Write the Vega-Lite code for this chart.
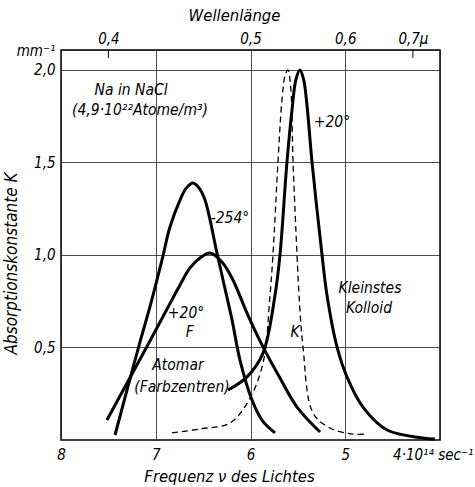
{
  "$schema": "https://vega.github.io/schema/vega-lite/v6.json",
  "width": 379,
  "height": 390,
  "autosize": {"type": "none"},
  "padding": {"left": 61, "top": 50, "right": 35, "bottom": 47},
  "background": "white",
  "config": {
    "view": {"stroke": "black", "strokeWidth": 1.5},
    "font": "DejaVu Sans Condensed",
    "axis": {
      "labelFont": "DejaVu Sans Condensed",
      "labelFontStyle": "italic",
      "labelFontSize": 15,
      "labelColor": "black",
      "labelFlush": false,
      "labelOverlap": false,
      "labelBound": false,
      "titleFont": "DejaVu Sans Condensed",
      "titleFontStyle": "italic",
      "titleFontWeight": "normal",
      "titleFontSize": 16.5,
      "titleColor": "black",
      "ticks": false,
      "tickSize": 0,
      "domain": false,
      "gridColor": "#222222",
      "gridWidth": 0.8,
      "gridOpacity": 1
    }
  },
  "datasets": {
    "solid": [
      {"series": "m254", "o": 1, "nu": 7.430, "K": 0.027},
      {"series": "m254", "o": 2, "nu": 7.314, "K": 0.250},
      {"series": "m254", "o": 3, "nu": 7.166, "K": 0.530},
      {"series": "m254", "o": 4, "nu": 7.050, "K": 0.741},
      {"series": "m254", "o": 5, "nu": 6.934, "K": 0.973},
      {"series": "m254", "o": 6, "nu": 6.850, "K": 1.151},
      {"series": "m254", "o": 7, "nu": 6.744, "K": 1.297},
      {"series": "m254", "o": 8, "nu": 6.680, "K": 1.360},
      {"series": "m254", "o": 9, "nu": 6.607, "K": 1.389},
      {"series": "m254", "o": 10, "nu": 6.540, "K": 1.360},
      {"series": "m254", "o": 11, "nu": 6.480, "K": 1.297},
      {"series": "m254", "o": 12, "nu": 6.354, "K": 1.011},
      {"series": "m254", "o": 13, "nu": 6.290, "K": 0.865},
      {"series": "m254", "o": 14, "nu": 6.195, "K": 0.649},
      {"series": "m254", "o": 15, "nu": 6.111, "K": 0.432},
      {"series": "m254", "o": 16, "nu": 5.984, "K": 0.216},
      {"series": "m254", "o": 17, "nu": 5.879, "K": 0.108},
      {"series": "m254", "o": 18, "nu": 5.741, "K": 0.038},
      {"series": "F20", "o": 1, "nu": 7.515, "K": 0.108},
      {"series": "F20", "o": 2, "nu": 7.314, "K": 0.297},
      {"series": "F20", "o": 3, "nu": 7.113, "K": 0.486},
      {"series": "F20", "o": 4, "nu": 6.881, "K": 0.708},
      {"series": "F20", "o": 5, "nu": 6.744, "K": 0.838},
      {"series": "F20", "o": 6, "nu": 6.639, "K": 0.930},
      {"series": "F20", "o": 7, "nu": 6.533, "K": 0.984},
      {"series": "F20", "o": 8, "nu": 6.427, "K": 1.011},
      {"series": "F20", "o": 9, "nu": 6.301, "K": 0.962},
      {"series": "F20", "o": 10, "nu": 6.185, "K": 0.865},
      {"series": "F20", "o": 11, "nu": 6.037, "K": 0.686},
      {"series": "F20", "o": 12, "nu": 5.868, "K": 0.503},
      {"series": "F20", "o": 13, "nu": 5.689, "K": 0.335},
      {"series": "F20", "o": 14, "nu": 5.509, "K": 0.178},
      {"series": "F20", "o": 15, "nu": 5.266, "K": 0.043},
      {"series": "Kol", "o": 1, "nu": 6.237, "K": 0.270},
      {"series": "Kol", "o": 2, "nu": 6.037, "K": 0.341},
      {"series": "Kol", "o": 3, "nu": 5.868, "K": 0.470},
      {"series": "Kol", "o": 4, "nu": 5.741, "K": 0.784},
      {"series": "Kol", "o": 5, "nu": 5.689, "K": 1.000},
      {"series": "Kol", "o": 6, "nu": 5.615, "K": 1.503},
      {"series": "Kol", "o": 7, "nu": 5.562, "K": 1.784},
      {"series": "Kol", "o": 8, "nu": 5.520, "K": 1.950},
      {"series": "Kol", "o": 9, "nu": 5.478, "K": 2.000},
      {"series": "Kol", "o": 10, "nu": 5.440, "K": 1.950},
      {"series": "Kol", "o": 11, "nu": 5.404, "K": 1.810},
      {"series": "Kol", "o": 12, "nu": 5.351, "K": 1.503},
      {"series": "Kol", "o": 13, "nu": 5.245, "K": 1.000},
      {"series": "Kol", "o": 14, "nu": 5.193, "K": 0.784},
      {"series": "Kol", "o": 15, "nu": 5.087, "K": 0.503},
      {"series": "Kol", "o": 16, "nu": 4.982, "K": 0.341},
      {"series": "Kol", "o": 17, "nu": 4.813, "K": 0.178},
      {"series": "Kol", "o": 18, "nu": 4.559, "K": 0.054},
      {"series": "Kol", "o": 19, "nu": 4.179, "K": 0.011},
      {"series": "Kol", "o": 20, "nu": 4.053, "K": 0.005}
    ],
    "dashed": [
      {"o": 1, "nu": 6.829, "K": 0.038},
      {"o": 2, "nu": 6.530, "K": 0.060},
      {"o": 3, "nu": 6.216, "K": 0.092},
      {"o": 4, "nu": 6.016, "K": 0.216},
      {"o": 5, "nu": 5.868, "K": 0.416},
      {"o": 6, "nu": 5.794, "K": 0.784},
      {"o": 7, "nu": 5.763, "K": 1.000},
      {"o": 8, "nu": 5.710, "K": 1.503},
      {"o": 9, "nu": 5.668, "K": 1.838},
      {"o": 10, "nu": 5.635, "K": 1.970},
      {"o": 11, "nu": 5.605, "K": 2.000},
      {"o": 12, "nu": 5.575, "K": 1.900},
      {"o": 13, "nu": 5.551, "K": 1.503},
      {"o": 14, "nu": 5.509, "K": 1.000},
      {"o": 15, "nu": 5.488, "K": 0.784},
      {"o": 16, "nu": 5.446, "K": 0.503},
      {"o": 17, "nu": 5.340, "K": 0.146},
      {"o": 18, "nu": 5.161, "K": 0.065},
      {"o": 19, "nu": 4.918, "K": 0.032},
      {"o": 20, "nu": 4.770, "K": 0.032}
    ],
    "topticks": [
      {"nu": 7.5, "K": 2.108, "K2": 2.065},
      {"nu": 4.2857, "K": 2.108, "K2": 2.065}
    ],
    "labels": [
      {"t": "Na in NaCl", "nu": 7.26, "K": 1.89},
      {"t": "(4,9·10²²Atome/m³)", "nu": 7.166, "K": 1.784},
      {"t": "-254°", "nu": 6.216, "K": 1.2},
      {"t": "+20°", "nu": 5.14, "K": 1.719},
      {"t": "+20°", "nu": 6.68, "K": 0.686},
      {"t": "F", "nu": 6.64, "K": 0.584},
      {"t": "Atomar", "nu": 6.765, "K": 0.405},
      {"t": "(Farbzentren)", "nu": 6.723, "K": 0.286},
      {"t": "K", "nu": 5.53, "K": 0.584},
      {"t": "Kleinstes", "nu": 4.739, "K": 0.82},
      {"t": "Kolloid", "nu": 4.75, "K": 0.713}
    ]
  },
  "resolve": {"axis": {"x": "independent"}},
  "layer": [
    {
      "data": {"name": "solid"},
      "mark": {"type": "line", "color": "black", "strokeWidth": 3, "interpolate": "catmull-rom"},
      "encoding": {
        "x": {
          "field": "nu", "type": "quantitative",
          "scale": {"domain": [4, 8], "reverse": true, "nice": false, "zero": false},
          "axis": {
            "orient": "bottom",
            "values": [8, 7, 6, 5, 4],
            "labelExpr": "datum.value == 4 ? '4·10¹⁴ sec⁻¹' : format(datum.value, 'd')",
            "labelAlign": {"condition": {"test": "datum.value == 4", "value": "right"}, "value": "center"},
            "labelOffset": {"condition": {"test": "datum.value == 4", "value": 33}, "value": 0},
            "labelPadding": 7,
            "title": "Frequenz ν des Lichtes",
            "titleAnchor": "middle",
            "titleX": 168,
            "titlePadding": 6,
            "grid": true
          }
        },
        "y": {
          "field": "K", "type": "quantitative",
          "scale": {"domain": [0, 2.108], "nice": false, "zero": true},
          "axis": {
            "values": [0.5, 1, 1.5, 2, 2.108],
            "labelExpr": "datum.value > 2.05 ? 'mm⁻¹' : replace(format(datum.value, '.1f'), '.', ',')",
            "labelPadding": 6,
            "title": "Absorptionskonstante K",
            "titleFontSize": 17,
            "titleAnchor": "middle",
            "titleX": -41,
            "titleY": 213,
            "grid": true
          }
        },
        "detail": {"field": "series"},
        "order": {"field": "o"}
      }
    },
    {
      "data": {"name": "dashed"},
      "mark": {"type": "line", "color": "black", "strokeWidth": 1.3, "strokeDash": [6, 4], "interpolate": "catmull-rom"},
      "encoding": {
        "x": {"field": "nu", "type": "quantitative", "axis": null},
        "y": {"field": "K", "type": "quantitative"},
        "order": {"field": "o"}
      }
    },
    {
      "data": {"name": "topticks"},
      "mark": {"type": "rule", "color": "black", "strokeWidth": 1},
      "encoding": {
        "x": {
          "field": "nu", "type": "quantitative",
          "axis": {
            "orient": "top",
            "values": [7.5, 6, 5, 4.2857],
            "labelExpr": "datum.value == 7.5 ? '0,4' : datum.value == 6 ? '0,5' : datum.value == 5 ? '0,6' : '0,7μ'",
            "labelPadding": 4,
            "title": "Wellenlänge",
            "titleAnchor": "middle",
            "titleX": 173,
            "titlePadding": 8,
            "grid": false
          }
        },
        "y": {"field": "K", "type": "quantitative"},
        "y2": {"field": "K2"}
      }
    },
    {
      "data": {"name": "labels"},
      "mark": {"type": "text", "font": "DejaVu Sans Condensed", "fontStyle": "italic", "fontSize": 15.5, "color": "black"},
      "encoding": {
        "x": {"field": "nu", "type": "quantitative", "axis": null},
        "y": {"field": "K", "type": "quantitative"},
        "text": {"field": "t"}
      }
    }
  ]
}
